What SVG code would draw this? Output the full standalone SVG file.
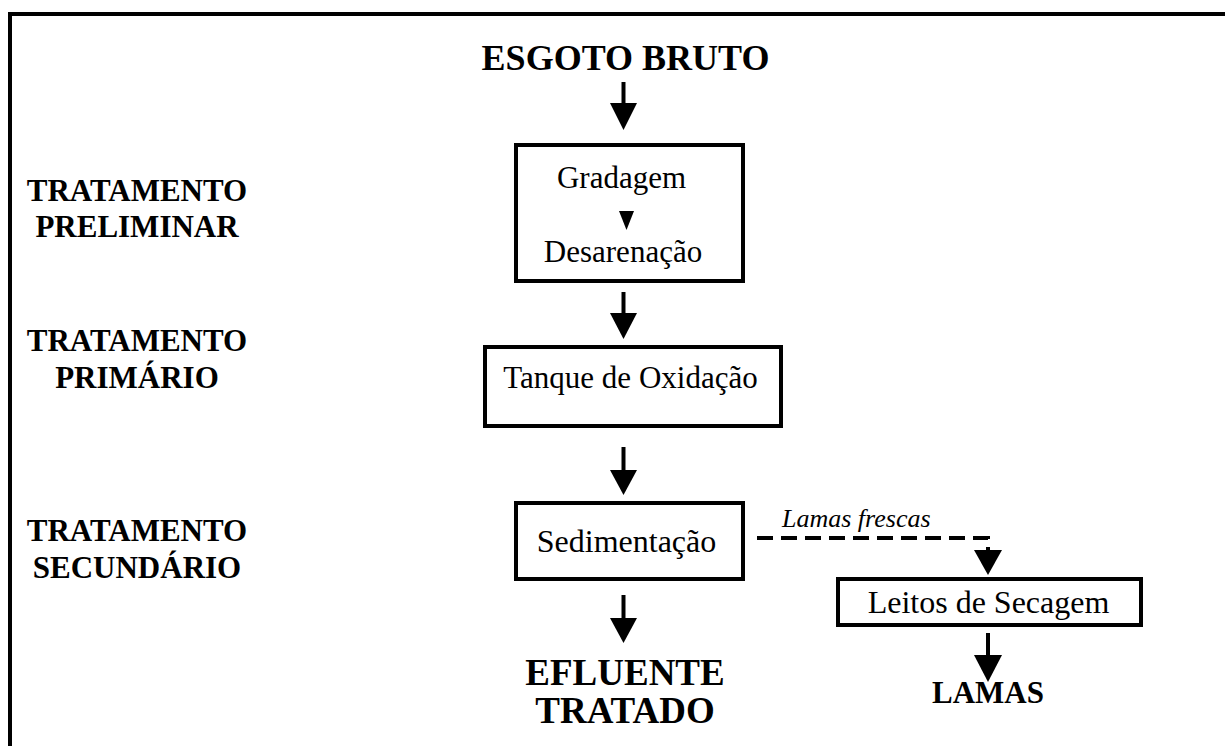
<svg xmlns="http://www.w3.org/2000/svg" width="1225" height="746" viewBox="0 0 1225 746">
<style>
.box{fill:#fff;stroke:#000;stroke-width:4}
.t{font-family:"Liberation Serif","Times New Roman",serif;fill:#000}
.b{font-weight:bold}
.sh{stroke:#000;stroke-width:4;fill:none}
.hd{fill:#000}
</style>
<rect width="1225" height="746" fill="#fff"/>
<g id="frame"><path d="M10,746 V14 H1225" fill="none" stroke="#000" stroke-width="4"/></g>
<g id="labels">
<text class="t b" x="137" y="201" font-size="31" text-anchor="middle">TRATAMENTO</text>
<text class="t b" x="137" y="237" font-size="31" text-anchor="middle">PRELIMINAR</text>
<text class="t b" x="137" y="351" font-size="31" text-anchor="middle">TRATAMENTO</text>
<text class="t b" x="137" y="388" font-size="31" text-anchor="middle">PRIMÁRIO</text>
<text class="t b" x="137" y="541" font-size="31" text-anchor="middle">TRATAMENTO</text>
<text class="t b" x="137" y="578" font-size="31" text-anchor="middle">SECUNDÁRIO</text>
</g>
<g id="esgoto"><text class="t b" x="625.5" y="70" font-size="36" text-anchor="middle">ESGOTO BRUTO</text></g>
<g id="gradagem">
<rect class="box" x="516" y="145" width="227" height="136"/>
<text class="t" x="621.5" y="188" font-size="31" text-anchor="middle">Gradagem</text>
<polygon points="619,211 634,211 626.5,230" fill="#000"/>
<text class="t" x="623" y="262" font-size="31" text-anchor="middle">Desarenação</text>
</g>
<g id="tanque">
<rect class="box" x="485" y="347" width="296" height="79"/>
<text class="t" x="630.5" y="388" font-size="31" text-anchor="middle">Tanque de Oxidação</text>
</g>
<g id="sedimentacao">
<rect class="box" x="516" y="503" width="227" height="76"/>
<text class="t" x="626.5" y="552" font-size="32" text-anchor="middle">Sedimentação</text>
</g>
<g id="leitos">
<rect class="box" x="838" y="579" width="303" height="46"/>
<text class="t" x="988.5" y="613" font-size="32" text-anchor="middle">Leitos de Secagem</text>
</g>
<g id="efluente">
<text class="t b" x="625" y="685" font-size="37" text-anchor="middle">EFLUENTE</text>
<text class="t b" x="625" y="723" font-size="37" text-anchor="middle">TRATADO</text>
</g>
<g id="lamas"><text class="t b" x="988" y="703" font-size="31" text-anchor="middle">LAMAS</text></g>
<g id="connectors">
<line class="sh" x1="623.5" y1="82" x2="623.5" y2="104"/>
<polygon class="hd" points="610,103 637,103 623.5,130"/>
<line class="sh" x1="623.5" y1="292" x2="623.5" y2="314"/>
<polygon class="hd" points="610,313 637,313 623.5,339"/>
<line class="sh" x1="623.5" y1="447" x2="623.5" y2="471"/>
<polygon class="hd" points="610,470 637,470 623.5,495"/>
<line class="sh" x1="623.5" y1="595" x2="623.5" y2="619"/>
<polygon class="hd" points="610,618 637,618 623.5,643"/>
<path class="sh" d="M757,538 H988 V551" stroke-dasharray="16 8"/>
<polygon class="hd" points="974,550 1002,550 988,575"/>
<line class="sh" x1="988" y1="633" x2="988" y2="656"/>
<polygon class="hd" points="974,655 1002,655 988,682"/>
<text class="t" x="782" y="527" font-size="26" font-style="italic">Lamas frescas</text>
</g>
</svg>
